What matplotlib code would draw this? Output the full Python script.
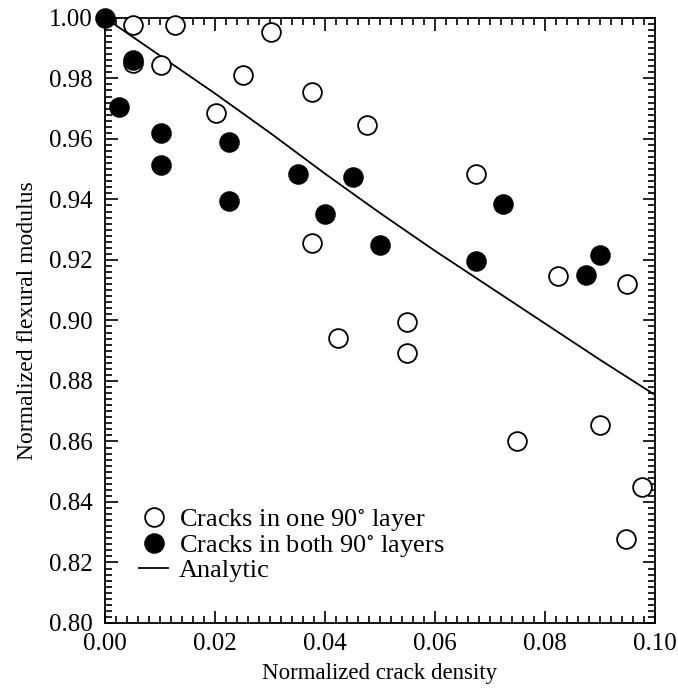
import matplotlib
matplotlib.use("Agg")
import matplotlib.pyplot as plt
from matplotlib.ticker import MultipleLocator, FormatStrFormatter

plt.rcParams['font.family'] = ['Liberation Serif', 'DejaVu Serif']
plt.rcParams['mathtext.fontset'] = 'stix'

# cracks in one 90 deg layer (open circles)
one_x = [0.0051, 0.0127, 0.0051, 0.0102, 0.0302, 0.0251, 0.0202, 0.0376, 0.0476,
         0.0376, 0.0424, 0.0549, 0.0549, 0.0675, 0.0749, 0.0824, 0.0900, 0.0950,
         0.0976, 0.0948]
one_y = [0.9977, 0.9977, 0.9850, 0.9845, 0.9953, 0.9812, 0.9685, 0.9754, 0.9646,
         0.9257, 0.8941, 0.8996, 0.8891, 0.9484, 0.8603, 0.9147, 0.8655, 0.9120,
         0.8449, 0.8277]

# cracks in both 90 deg layers (filled circles)
both_x = [0.0000, 0.0051, 0.0026, 0.0101, 0.0101, 0.0226, 0.0226, 0.0350, 0.0450,
          0.0400, 0.0500, 0.0674, 0.0724, 0.0875, 0.0900]
both_y = [1.0000, 0.9860, 0.9705, 0.9619, 0.9514, 0.9589, 0.9396, 0.9483, 0.9475,
          0.9351, 0.9250, 0.9197, 0.9385, 0.9150, 0.9217]

# analytic curve
ana_x = [0.00, 0.01, 0.02, 0.03, 0.04, 0.05, 0.06, 0.07, 0.08, 0.09, 0.10]
ana_y = [1.000, 0.9875, 0.9750, 0.9620, 0.9485, 0.9355, 0.9230, 0.9110, 0.8990, 0.8870, 0.8754]

fig = plt.figure(figsize=(6.78, 6.88), dpi=100)
ax = fig.add_axes([0.155, 0.0945, 0.811, 0.8795])

ax.plot(one_x, one_y, 'o', ms=13.5, mfc='white', mec='black', mew=1.3,
        clip_on=False, zorder=3, label='Cracks in one 90$^{\\circ}$ layer')
ax.plot(both_x, both_y, 'o', ms=13.5, mfc='black', mec='black', mew=1.3,
        clip_on=False, zorder=4, label='Cracks in both 90$^{\\circ}$ layers')
ax.plot(ana_x, ana_y, '-', color='black', lw=1.3, zorder=2, label='Analytic')

ax.set_xlim(0, 0.10)
ax.set_ylim(0.80, 1.00)
ax.xaxis.set_major_locator(MultipleLocator(0.02))
ax.xaxis.set_minor_locator(MultipleLocator(0.002))
ax.yaxis.set_major_locator(MultipleLocator(0.02))
ax.yaxis.set_minor_locator(MultipleLocator(0.002))
ax.xaxis.set_major_formatter(FormatStrFormatter('%.2f'))
ax.yaxis.set_major_formatter(FormatStrFormatter('%.2f'))
ax.tick_params(which='both', direction='in', top=True, right=True,
               labelsize=18, width=1.2)
ax.tick_params(axis='y', pad=9)
ax.tick_params(axis='x', pad=7)
ax.tick_params(which='major', length=9)
ax.tick_params(which='minor', length=5)
for s in ax.spines.values():
    s.set_linewidth(1.3)

ax.set_xlabel('Normalized crack density', fontsize=16.5, labelpad=6)
ax.set_ylabel('Normalized flexural modulus', fontsize=17, labelpad=8)

ax.legend(loc='upper left', bbox_to_anchor=(0.062, 0.192), frameon=False,
          fontsize=19, handlelength=1.1, handletextpad=0.4, labelspacing=0.0,
          borderaxespad=0, borderpad=0)

fig.savefig('out.png', dpi=100)
